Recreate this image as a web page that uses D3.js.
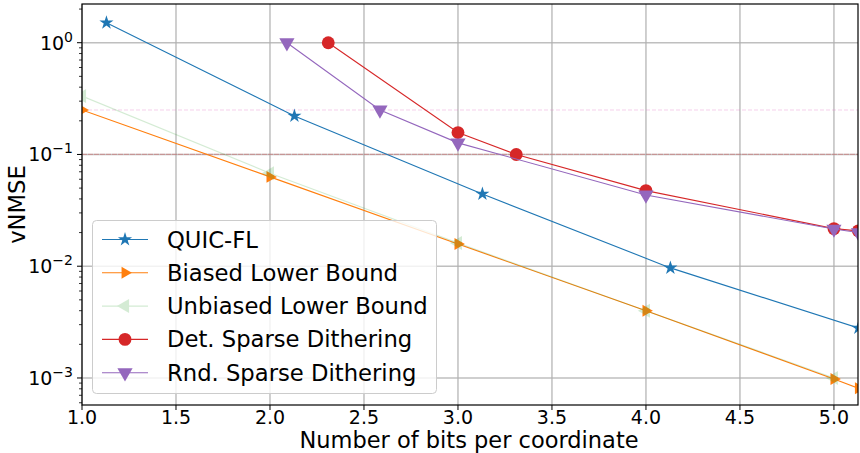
<!DOCTYPE html>
<html>
<head>
<meta charset="utf-8">
<script src="https://cdn.jsdelivr.net/npm/d3@7"></script>
<style>
  body { margin: 0; background: #fff; }
  svg { display: block; font-family: "DejaVu Sans", sans-serif; }
</style>
</head>
<body>
<svg id="chart" width="860" height="453"></svg>
<script>
// ---- data ----
const quicX = [1.13, 2.13, 3.13, 4.13, 5.13];
const quicY = [1.51, 0.221, 0.0443, 0.00966, 0.0028];

const biasedX = [1, 2, 3, 4, 5, 5.13];
const biasedY = [0.25, 0.063, 0.0158, 0.0040, 0.00098, 0.00081];

const unbiasedX = [1, 2, 3, 4, 5];
const unbiasedY = [0.333, 0.068, 0.0161, 0.0040, 0.00100];

const detX = [2.31, 3.0, 3.31, 4.0, 5.0, 5.13];
const detY = [1.0, 0.157, 0.1, 0.0475, 0.0217, 0.0207];

const rndX = [2.09, 2.585, 3.0, 4.0, 5.0, 5.13];
const rndY = [1.0, 0.25, 0.127, 0.0434, 0.0215, 0.020];

const hLines = [0.25, 0.1];

const xTicks = [1.0, 1.5, 2.0, 2.5, 3.0, 3.5, 4.0, 4.5, 5.0];
const yTickExps = [-3, -2, -1, 0];

const seriesNames = ["QUIC-FL", "Biased Lower Bound", "Unbiased Lower Bound", "Det. Sparse Dithering", "Rnd. Sparse Dithering"];

// ---- layout ----
const svg = d3.select("#chart");
const L = 82, R = 858, T = 4, B = 405;

const x = d3.scaleLinear().domain([1.0, 5.128]).range([L, R]);
const y = d3.scaleLog().domain([5.73e-4, 2.22]).range([B, T]);

const series = [
  { name: seriesNames[0], xs: quicX, ys: quicY, color: "#1f77b4", sym: d3.symbolStar, size: 62, rot: 0, alpha: 1 },
  { name: seriesNames[1], xs: biasedX, ys: biasedY, color: "#ff7f0e", sym: d3.symbolTriangle, size: 62, rot: 90, alpha: 1 },
  { name: seriesNames[2], xs: unbiasedX, ys: unbiasedY, color: "#2ca02c", sym: d3.symbolTriangle, size: 85, rot: -90, alpha: 0.2 },
  { name: seriesNames[3], xs: detX, ys: detY, color: "#d62728", sym: d3.symbolCircle, size: 130, rot: 0, alpha: 1 },
  { name: seriesNames[4], xs: rndX, ys: rndY, color: "#9467bd", sym: d3.symbolTriangle, size: 100, rot: 180, alpha: 1 }
];

svg.append("defs").append("clipPath").attr("id", "clip")
  .append("rect").attr("x", L).attr("y", T).attr("width", R - L).attr("height", B - T);

// grid
const grid = svg.append("g");
xTicks.forEach(t => {
  grid.append("line").attr("x1", x(t)).attr("x2", x(t)).attr("y1", T).attr("y2", B)
    .attr("stroke", "#b0b0b0").attr("stroke-width", 1.5).attr("opacity", 0.8);
});
yTickExps.forEach(e => {
  grid.append("line").attr("x1", L).attr("x2", R).attr("y1", y(Math.pow(10, e))).attr("y2", y(Math.pow(10, e)))
    .attr("stroke", "#b0b0b0").attr("stroke-width", 1.5).attr("opacity", 0.8);
});

// horizontal reference lines
const plot = svg.append("g").attr("clip-path", "url(#clip)");
plot.append("line").attr("x1", L).attr("x2", R).attr("y1", y(hLines[0])).attr("y2", y(hLines[0]))
  .attr("stroke", "#e377c2").attr("stroke-opacity", 0.35).attr("stroke-width", 1).attr("stroke-dasharray", "4,2");
plot.append("line").attr("x1", L).attr("x2", R).attr("y1", y(hLines[1])).attr("y2", y(hLines[1]))
  .attr("stroke", "#d62728").attr("stroke-opacity", 0.28).attr("stroke-width", 1.2).attr("stroke-dasharray", "5,1");

// series
const line = d3.line().x(d => x(d[0])).y(d => y(d[1]));
series.forEach(s => {
  const pts = s.xs.map((v, i) => [v, s.ys[i]]);
  const g = plot.append("g").attr("opacity", s.alpha);
  g.append("path").datum(pts).attr("d", line).attr("fill", "none")
    .attr("stroke", s.color).attr("stroke-width", 1.1);
  g.selectAll("path.m").data(pts).enter().append("path").attr("class", "m")
    .attr("d", d3.symbol().type(s.sym).size(s.size))
    .attr("transform", d => `translate(${x(d[0])},${y(d[1])}) rotate(${s.rot})`)
    .attr("fill", s.color);
});

// spines
svg.append("rect").attr("x", L).attr("y", T).attr("width", R - L).attr("height", B - T)
  .attr("fill", "none").attr("stroke", "#000").attr("stroke-width", 1.2);

// x axis ticks
const xAxis = svg.append("g");
xTicks.forEach(t => {
  xAxis.append("line").attr("x1", x(t)).attr("x2", x(t)).attr("y1", B).attr("y2", B + 5).attr("stroke", "#000").attr("stroke-width", 1);
  xAxis.append("text").attr("x", x(t)).attr("y", B + 19).attr("text-anchor", "middle")
    .attr("font-size", 19).attr("fill", "#000").text(t.toFixed(1));
});

// y axis ticks (major + minor)
const yAxis = svg.append("g");
yTickExps.forEach(e => {
  const yy = y(Math.pow(10, e));
  yAxis.append("line").attr("x1", L - 5).attr("x2", L).attr("y1", yy).attr("y2", yy).attr("stroke", "#000").attr("stroke-width", 1);
  const t = yAxis.append("text").attr("x", L - 9).attr("y", yy + 7).attr("text-anchor", "end")
    .attr("font-size", 19).attr("fill", "#000");
  t.append("tspan").text("10");
  t.append("tspan").attr("dy", -8).attr("font-size", 14).text(e < 0 ? "\u2212" + Math.abs(e) : String(e));
});
for (let e = -4; e <= 0; e++) {
  for (let m = 2; m <= 9; m++) {
    const v = m * Math.pow(10, e);
    if (v < y.domain()[0] || v > y.domain()[1]) continue;
    const yy = y(v);
    yAxis.append("line").attr("x1", L - 3).attr("x2", L).attr("y1", yy).attr("y2", yy).attr("stroke", "#000").attr("stroke-width", 0.8);
  }
}

// axis labels
svg.append("text").attr("x", 469).attr("y", 448).attr("text-anchor", "middle")
  .attr("font-size", 22.5).attr("fill", "#000").text("Number of bits per coordinate");
svg.append("text").attr("transform", `translate(25, ${(T + B) / 2}) rotate(-90)`).attr("text-anchor", "middle")
  .attr("font-size", 22.7).attr("fill", "#000").text("vNMSE");

// legend
const lg = svg.append("g");
lg.append("rect").attr("x", 92.5).attr("y", 220.5).attr("width", 344).attr("height", 173).attr("rx", 4)
  .attr("fill", "#fff").attr("fill-opacity", 0.8).attr("stroke", "#cccccc").attr("stroke-width", 1);
series.forEach((s, i) => {
  const cy = 239.5 + i * 33.3;
  const g = lg.append("g").attr("opacity", s.alpha);
  g.append("line").attr("x1", 102).attr("x2", 148).attr("y1", cy).attr("y2", cy)
    .attr("stroke", s.color).attr("stroke-width", 1.1);
  g.append("path").attr("d", d3.symbol().type(s.sym).size(s.size))
    .attr("transform", `translate(125,${cy}) rotate(${s.rot})`).attr("fill", s.color);
  lg.append("text").attr("x", 167).attr("y", cy + 8).attr("font-size", 22.7).attr("fill", "#000").text(s.name);
});
</script>
</body>
</html>
